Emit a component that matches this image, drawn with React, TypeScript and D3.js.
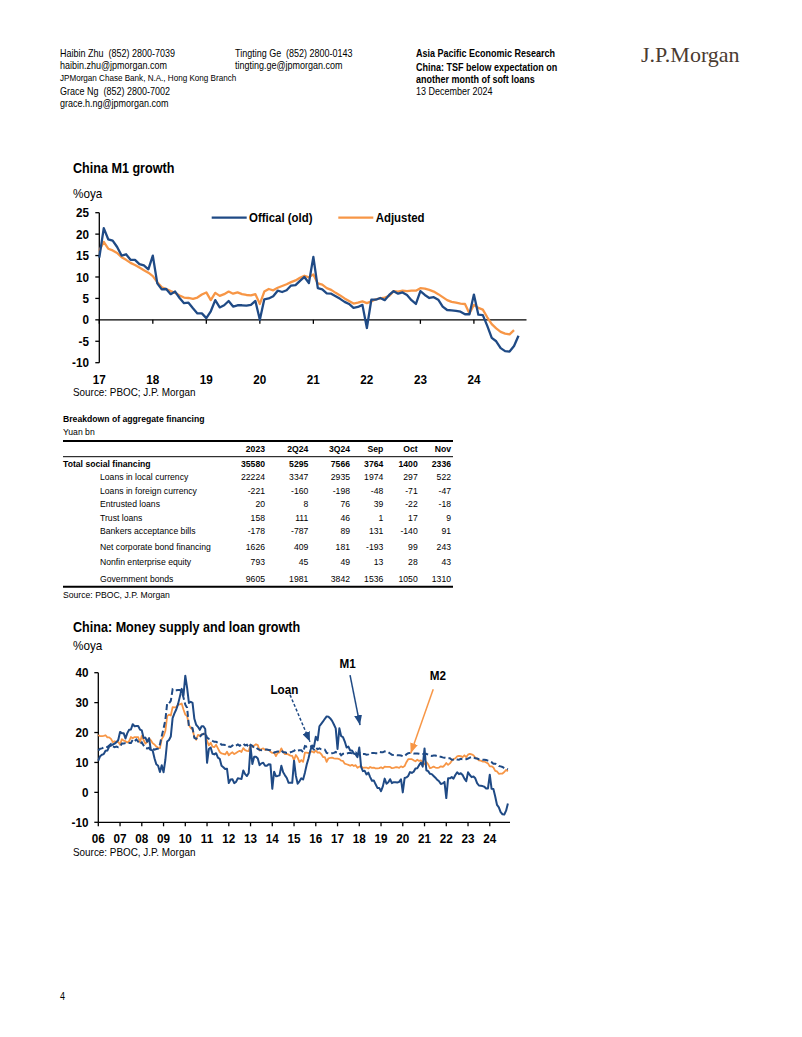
import React from "react";
import * as d3 from "d3";

const NAVY = "#1f4a85";
const ORANGE = "#f79646";
const SANS = "'Liberation Sans', Arial, sans-serif";
const SERIF = "'Liberation Serif', 'DejaVu Serif', serif";
const SX = 0.9; // the page type is set slightly condensed

// ---- chart 1: China M1 growth, monthly Jan-17 .. Nov-24
const m1Years = ["17", "18", "19", "20", "21", "22", "23", "24"];
const m1Official = [
  14.5, 21.4, 18.8, 18.5, 17.0, 15.0, 15.3, 14.0, 14.0, 13.0, 12.7, 11.8,
  15.0, 8.5, 7.1, 7.2, 6.0, 6.6, 5.1, 3.9, 4.0, 2.7, 1.5, 1.5,
  0.4, 2.0, 4.6, 2.9, 3.4, 4.4, 3.1, 3.4, 3.4, 3.3, 3.5, 4.4,
  0.0, 4.8, 5.0, 5.5, 6.8, 6.5, 6.9, 8.0, 8.1, 9.1, 10.0, 8.6,
  14.7, 7.4, 7.1, 6.2, 6.1, 5.5, 4.9, 4.2, 3.7, 2.8, 3.0, 3.5,
  -1.9, 4.7, 4.7, 5.1, 4.6, 5.8, 6.7, 6.1, 6.4, 5.8, 4.6, 3.7,
  6.7, 5.8, 5.1, 5.3, 4.7, 3.1, 2.3, 2.2, 2.1, 1.9, 1.3, 1.3,
  5.9, 1.2, 1.1, -1.4, -4.2, -5.0, -6.6, -7.3, -7.4, -6.1, -3.7,
];
const m1Adjusted = [
  16.1, 18.2, 16.6, 16.2, 15.6, 14.6, 14.0, 13.3, 12.8, 12.2, 11.6, 11.0,
  10.2, 8.8, 7.6, 7.2, 6.7, 6.3, 5.7, 5.2, 5.1, 4.9, 5.2, 5.9,
  6.4, 4.6, 6.3, 5.6, 6.0, 6.6, 6.1, 6.4, 6.0, 5.8, 5.7, 6.0,
  3.7, 6.6, 7.2, 6.9, 7.5, 7.9, 8.3, 8.8, 9.2, 9.8, 10.3, 9.9,
  10.6, 8.5, 8.2, 7.4, 7.0, 6.3, 5.7, 5.0, 4.4, 3.8, 4.0, 4.3,
  3.9, 4.3, 4.8, 5.0, 5.2, 5.6, 6.7, 6.6, 6.8, 6.7, 6.8, 6.8,
  7.4, 7.3, 7.0, 6.6, 6.0, 5.3, 4.6, 4.2, 4.0, 3.8, 3.7, 1.5,
  3.5, 2.8, 2.4, 0.6, -1.0, -2.0, -2.8, -3.2, -3.4, -2.4,
];

// ---- chart 2: money supply and loan growth, monthly Jan-06 .. Nov-24
const moneyYears = ["06", "07", "08", "09", "10", "11", "12", "13", "14", "15", "16", "17", "18", "19", "20", "21", "22", "23", "24"];
const m1Growth = [
  10.6, 12.1, 12.6, 12.8, 13.9, 14.0, 15.3, 15.6, 16.0, 16.3, 16.8, 17.5,
  20.2, 19.8, 19.8, 18.0, 19.8, 20.9, 21.0, 22.8, 22.1, 22.2, 22.2, 21.0,
  20.7, 18.2, 18.3, 16.9, 18.1, 14.2, 14.0, 11.4, 9.4, 8.9, 6.8, 9.1,
  6.7, 10.9, 17.0, 17.5, 18.7, 24.8, 26.4, 27.7, 29.5, 32.0, 34.6, 32.4,
  39.0, 34.9, 29.9, 30.3, 29.9, 24.6, 22.6, 21.9, 20.9, 22.1, 22.1, 21.2,
  9.9, 14.5, 15.0, 12.9, 12.7, 13.1, 11.6, 11.2, 8.9, 8.4, 7.8, 7.9,
  3.1, 4.3, 4.4, 3.1, 3.5, 4.7, 4.6, 4.5, 7.3, 6.1, 5.5, 6.5,
  15.3, 9.5, 11.9, 11.9, 11.3, 9.1, 9.7, 9.9, 8.9, 8.9, 9.4, 9.3,
  1.2, 6.9, 5.4, 5.5, 5.7, 8.9, 6.7, 5.7, 4.8, 3.2, 3.2, 3.2,
  10.6, 5.6, 2.9, 3.7, 4.7, 4.3, 6.6, 9.3, 11.4, 14.0, 15.7, 15.2,
  18.6, 17.4, 22.1, 22.9, 23.7, 24.6, 25.4, 25.3, 24.7, 23.9, 22.7, 21.4,
  14.5, 21.4, 18.8, 18.5, 17.0, 15.0, 15.3, 14.0, 14.0, 13.0, 12.7, 11.8,
  15.0, 8.5, 7.1, 7.2, 6.0, 6.6, 5.1, 3.9, 4.0, 2.7, 1.5, 1.5,
  0.4, 2.0, 4.6, 2.9, 3.4, 4.4, 3.1, 3.4, 3.4, 3.3, 3.5, 4.4,
  0.0, 4.8, 5.0, 5.5, 6.8, 6.5, 6.9, 8.0, 8.1, 9.1, 10.0, 8.6,
  14.7, 7.4, 7.1, 6.2, 6.1, 5.5, 4.9, 4.2, 3.7, 2.8, 3.0, 3.5,
  -1.9, 4.7, 4.7, 5.1, 4.6, 5.8, 6.7, 6.1, 6.4, 5.8, 4.6, 3.7,
  6.7, 5.8, 5.1, 5.3, 4.7, 3.1, 2.3, 2.2, 2.1, 1.9, 1.3, 1.3,
  5.9, 1.2, 1.1, -1.4, -4.2, -5.0, -6.6, -7.3, -7.4, -6.1, -3.7,
];
const m2Growth = [
  19.2, 18.8, 18.8, 18.9, 19.1, 18.4, 18.4, 17.9, 16.8, 17.1, 16.8, 16.9,
  15.9, 17.8, 17.3, 17.1, 16.7, 17.1, 18.5, 18.1, 18.5, 18.5, 18.5, 16.7,
  18.9, 17.5, 16.3, 16.9, 18.1, 17.4, 16.4, 16.0, 15.3, 15.0, 14.8, 17.8,
  18.8, 20.5, 25.5, 26.0, 25.7, 28.5, 28.4, 28.5, 29.3, 29.4, 29.7, 27.7,
  26.0, 25.5, 22.5, 21.5, 21.0, 18.5, 17.6, 19.2, 19.0, 19.3, 19.5, 19.7,
  17.2, 15.7, 16.6, 15.3, 15.1, 15.9, 14.7, 13.5, 13.0, 12.9, 12.7, 13.6,
  12.4, 13.0, 13.4, 12.8, 13.2, 13.6, 13.9, 13.5, 14.8, 14.1, 13.9, 13.8,
  15.9, 15.2, 15.7, 16.1, 15.8, 14.0, 14.5, 14.7, 14.2, 14.3, 14.2, 13.6,
  13.2, 13.3, 12.1, 13.2, 13.4, 14.7, 13.5, 12.8, 12.9, 12.6, 12.3, 12.2,
  10.8, 12.5, 11.6, 10.1, 10.8, 10.2, 13.3, 13.3, 13.1, 13.5, 13.7, 13.3,
  14.0, 13.3, 13.4, 12.8, 11.8, 11.8, 10.2, 11.4, 11.5, 11.6, 11.4, 11.3,
  11.3, 11.1, 10.6, 10.5, 9.6, 9.4, 9.2, 8.9, 9.2, 8.8, 9.1, 8.2,
  8.6, 8.8, 8.2, 8.3, 8.3, 8.0, 8.5, 8.2, 8.3, 8.0, 8.0, 8.1,
  8.4, 8.0, 8.6, 8.5, 8.5, 8.5, 8.1, 8.2, 8.4, 8.4, 8.2, 8.7,
  8.4, 8.8, 10.1, 11.1, 11.1, 11.1, 10.7, 10.4, 10.9, 10.5, 10.7, 10.1,
  9.4, 10.1, 9.4, 8.1, 8.3, 8.6, 8.3, 8.2, 8.3, 8.7, 8.5, 9.0,
  9.8, 9.2, 9.7, 10.5, 11.1, 11.4, 12.0, 12.2, 12.1, 11.8, 12.4, 11.8,
  12.6, 12.9, 12.7, 12.4, 11.6, 11.3, 10.7, 10.6, 10.3, 10.3, 10.0, 9.7,
  8.7, 8.7, 8.3, 7.2, 7.0, 6.2, 6.3, 6.3, 6.8, 7.5, 7.1,
];
const loanGrowth = [
  14.0, 14.6, 14.7, 15.0, 15.2, 15.2, 15.7, 16.2, 15.4, 15.1, 15.3, 15.1,
  15.2, 16.3, 16.3, 16.5, 16.4, 16.5, 16.5, 17.6, 17.1, 17.7, 17.0, 16.1,
  16.7, 15.7, 14.8, 14.7, 14.9, 14.1, 14.6, 14.3, 14.5, 14.6, 16.0, 18.8,
  21.3, 24.2, 29.8, 29.7, 30.6, 34.4, 34.0, 34.1, 34.2, 34.2, 33.8, 31.7,
  29.3, 28.3, 22.0, 21.8, 21.5, 18.2, 17.9, 18.4, 18.5, 19.3, 19.5, 19.9,
  18.3, 17.9, 17.6, 17.2, 16.9, 16.9, 16.6, 16.6, 15.9, 15.9, 15.8, 15.8,
  15.3, 15.2, 15.7, 15.3, 15.6, 16.0, 15.6, 16.0, 16.3, 15.7, 15.9, 15.0,
  15.9, 15.6, 14.9, 15.0, 14.5, 14.2, 14.1, 14.2, 14.3, 14.3, 14.2, 14.1,
  13.8, 13.3, 13.5, 13.7, 13.7, 14.0, 13.4, 13.4, 13.2, 13.2, 13.4, 13.6,
  13.9, 14.3, 14.0, 14.1, 14.1, 13.4, 15.5, 15.3, 15.4, 15.4, 14.9, 14.3,
  15.1, 14.4, 14.7, 14.4, 14.4, 14.3, 13.2, 13.0, 13.0, 13.1, 13.2, 13.5,
  13.2, 13.2, 12.4, 12.9, 12.9, 12.9, 13.2, 13.2, 13.1, 13.0, 13.3, 12.7,
  13.2, 12.8, 12.8, 12.8, 12.6, 12.7, 13.2, 13.2, 13.2, 13.1, 13.1, 13.5,
  13.4, 13.4, 13.7, 13.5, 13.4, 13.0, 12.6, 12.5, 12.5, 12.4, 12.4, 12.3,
  12.1, 12.1, 12.7, 13.1, 13.2, 13.2, 13.0, 13.0, 13.0, 12.9, 12.8, 12.8,
  12.7, 12.9, 12.6, 12.3, 12.2, 12.3, 12.3, 12.1, 11.9, 11.9, 11.7, 11.6,
  11.5, 11.4, 11.4, 10.9, 11.0, 11.2, 11.0, 10.9, 11.2, 11.1, 11.0, 11.1,
  11.3, 11.6, 11.8, 11.8, 11.4, 11.3, 11.1, 11.1, 10.9, 10.9, 10.8, 10.6,
  10.4, 10.1, 9.6, 9.6, 9.3, 8.8, 8.7, 8.5, 8.1, 8.0, 7.7,
];

// ---- table: breakdown of aggregate financing (Yuan bn)
const tableColumns = ["2023", "2Q24", "3Q24", "Sep", "Oct", "Nov"];
const rowLabels = [
  "Total social financing",
  "Loans in local currency",
  "Loans in foreign currency",
  "Entrusted loans",
  "Trust loans",
  "Bankers acceptance bills",
  "Net corporate bond financing",
  "Nonfin enterprise equity",
  "Government bonds",
];
const tsfTotal = [35580, 5295, 7566, 3764, 1400, 2336];
const loansLocal = [22224, 3347, 2935, 1974, 297, 522];
const loansForeign = [-221, -160, -198, -48, -71, -47];
const entrustedLoans = [20, 8, 76, 39, -22, -18];
const trustLoans = [158, 111, 46, 1, 17, 9];
const bankersBills = [-178, -787, 89, 131, -140, 91];
const corpBonds = [1626, 409, 181, -193, 99, 243];
const nonfinEquity = [793, 45, 49, 13, 28, 43];
const govBonds = [9605, 1981, 3842, 1536, 1050, 1310];

// annotation anchors in (month index, % value) for chart 2
const loanNote = { text: [102.7, 34.4], from: [105.8, 32.6], to: [116.8, 16.9] };
const m1Note = { text: [137.5, 43.0], from: [138.9, 39.2], to: [144.4, 22.5] };
const m2Note = { text: [187.4, 39.2], from: [184.8, 34.5], to: [172.4, 13.1] };

type TProps = {
  x: number; y: number; size: number; bold?: boolean; anchor?: string;
  fill?: string; family?: string; sx?: number; children: React.ReactNode;
};
const T = ({ x, y, size, bold, anchor = "start", fill = "#000", family = SANS, sx = SX, children }: TProps) => (
  <g transform={`translate(${x},${y}) scale(${sx},1)`}>
    <text fontSize={size} fontWeight={bold ? "bold" : "normal"} textAnchor={anchor as any} fill={fill}
      fontFamily={family} style={{ whiteSpace: "pre" }}>
      {children}
    </text>
  </g>
);

const Header = () => (
  <g>
    <T x={60} y={57} size={10}>Haibin Zhu  (852) 2800-7039</T>
    <T x={60} y={69} size={10}>haibin.zhu@jpmorgan.com</T>
    <T x={60} y={80.5} size={9}>JPMorgan Chase Bank, N.A., Hong Kong Branch</T>
    <T x={60} y={95} size={10}>Grace Ng  (852) 2800-7002</T>
    <T x={60} y={106.5} size={10}>grace.h.ng@jpmorgan.com</T>
    <T x={235} y={57} size={10}>Tingting Ge  (852) 2800-0143</T>
    <T x={235} y={69} size={10}>tingting.ge@jpmorgan.com</T>
    <T x={416} y={57} size={10} bold>Asia Pacific Economic Research</T>
    <T x={416} y={71} size={10} bold>China: TSF below expectation on</T>
    <T x={416} y={83} size={10} bold>another month of soft loans</T>
    <T x={416} y={95} size={10}>13 December 2024</T>
    <T x={641} y={62} size={22} family={SERIF} fill="#4a3b31" sx={1}>J.P.Morgan</T>
  </g>
);

const M1Chart = () => {
  const x = d3.scaleLinear().domain([0, m1Official.length - 1]).range([99.3, 518.5]);
  const y = d3.scaleLinear().domain([-10, 25]).range([362.7, 212.7]);
  const line = d3.line<number>().x((_, i) => x(i)).y((d) => y(d));
  const yTicks = y.ticks(7);
  return (
    <g>
      <T x={73} y={173.3} size={14} bold>China M1 growth</T>
      <T x={73} y={197.8} size={13}>%oya</T>
      {/* y axis */}
      <line x1={x(0)} x2={x(0)} y1={y(25)} y2={y(-10)} stroke="#000" strokeWidth={1.3} />
      {yTicks.map((t) => (
        <g key={t}>
          <line x1={x(0) - 4} x2={x(0)} y1={y(t)} y2={y(t)} stroke="#000" strokeWidth={1.3} />
          <T x={89} y={y(t) + 4.6} size={13} bold anchor="end">{t}</T>
        </g>
      ))}
      {/* zero line with year ticks */}
      <line x1={x(0)} x2={526.5} y1={y(0)} y2={y(0)} stroke="#000" strokeWidth={1.3} />
      {m1Years.map((lab, i) => (
        <g key={lab}>
          <line x1={x(i * 12)} x2={x(i * 12)} y1={y(0)} y2={y(0) + 4} stroke="#000" strokeWidth={1.3} />
          <T x={x(i * 12)} y={384} size={13} bold anchor="middle">{lab}</T>
        </g>
      ))}
      <path d={line(m1Adjusted) ?? ""} fill="none" stroke={ORANGE} strokeWidth={2.3} strokeLinejoin="round" />
      <path d={line(m1Official) ?? ""} fill="none" stroke={NAVY} strokeWidth={2.3} strokeLinejoin="round" />
      {/* legend */}
      <line x1={211.7} x2={246.7} y1={217.7} y2={217.7} stroke={NAVY} strokeWidth={2.3} />
      <T x={249} y={222.3} size={12.7} bold>Offical (old)</T>
      <line x1={338.3} x2={373.3} y1={217.7} y2={217.7} stroke={ORANGE} strokeWidth={2.3} />
      <T x={375.7} y={222.3} size={12.7} bold>Adjusted</T>
      <T x={73} y={396} size={11}>Source: PBOC; J.P. Morgan</T>
    </g>
  );
};

const FinancingTable = () => {
  const rows = [tsfTotal, loansLocal, loansForeign, entrustedLoans, trustLoans, bankersBills, corpBonds, nonfinEquity, govBonds];
  const colRight = [265, 308.3, 350, 383.3, 417.7, 451];
  const rowBaselines = [467.4, 480.4, 493.7, 507.4, 520.7, 534.4, 549.7, 565.4, 581.7];
  return (
    <g>
      <T x={63} y={422.4} size={9.6} bold>Breakdown of aggregate financing</T>
      <T x={63} y={435} size={9.6}>Yuan bn</T>
      <line x1={63} x2={453} y1={441} y2={441} stroke="#000" strokeWidth={2} />
      {tableColumns.map((c, j) => (
        <T key={c} x={colRight[j]} y={451.7} size={9.6} bold anchor="end">{c}</T>
      ))}
      <line x1={63} x2={453} y1={456.7} y2={456.7} stroke="#000" strokeWidth={1} />
      {rows.map((vals, i) => (
        <g key={rowLabels[i]}>
          <T x={i === 0 ? 63 : 100} y={rowBaselines[i]} size={9.6} bold={i === 0}>{rowLabels[i]}</T>
          {vals.map((v, j) => (
            <T key={j} x={colRight[j]} y={rowBaselines[i]} size={9.6} bold={i === 0} anchor="end">{v}</T>
          ))}
        </g>
      ))}
      <line x1={63} x2={453} y1={586.7} y2={586.7} stroke="#000" strokeWidth={2} />
      <T x={63} y={598.2} size={9.6}>Source: PBOC, J.P. Morgan</T>
    </g>
  );
};

const MoneyChart = () => {
  const x = d3.scaleLinear().domain([0, m1Growth.length - 1]).range([98.3, 507.9]);
  const y = d3.scaleLinear().domain([-10, 40]).range([822.3, 672.7]);
  const line = d3.line<number>().x((_, i) => x(i)).y((d) => y(d));
  const yTicks = y.ticks(5);
  const pt = (p: number[]) => [x(p[0]), y(p[1])];
  const arrow = (n: { from: number[]; to: number[] }, color: string, marker: string, dash?: string) => {
    const [x1, y1] = pt(n.from);
    const [x2, y2] = pt(n.to);
    return (
      <line x1={x1} y1={y1} x2={x2} y2={y2} stroke={color} strokeWidth={1.5}
        strokeDasharray={dash} markerEnd={`url(#${marker})`} />
    );
  };
  return (
    <g>
      <defs>
        {[["head-navy", NAVY], ["head-orange", ORANGE]].map(([id, c]) => (
          <marker key={id} id={id} viewBox="0 0 10 8" refX={10} refY={4} markerWidth={10} markerHeight={8}
            markerUnits="userSpaceOnUse" orient="auto">
            <path d="M0,0 L10,4 L0,8 Z" fill={c} />
          </marker>
        ))}
      </defs>
      <T x={73} y={632.3} size={14} bold>China: Money supply and loan growth</T>
      <T x={73} y={650.4} size={13}>%oya</T>
      <line x1={x(0)} x2={x(0)} y1={y(40)} y2={y(-10)} stroke="#000" strokeWidth={1.3} />
      {yTicks.map((t) => (
        <g key={t}>
          <line x1={x(0) - 4} x2={x(0)} y1={y(t)} y2={y(t)} stroke="#000" strokeWidth={1.3} />
          <T x={88.5} y={y(t) + 4.6} size={13} bold anchor="end">{t}</T>
        </g>
      ))}
      <line x1={x(0)} x2={510} y1={y(-10)} y2={y(-10)} stroke="#000" strokeWidth={1.3} />
      {moneyYears.map((lab, i) => (
        <g key={lab}>
          <line x1={x(i * 12)} x2={x(i * 12)} y1={y(-10)} y2={y(-10) + 4} stroke="#000" strokeWidth={1.3} />
          <T x={x(i * 12)} y={843} size={13} bold anchor="middle">{lab}</T>
        </g>
      ))}
      <path d={line(m2Growth) ?? ""} fill="none" stroke={ORANGE} strokeWidth={1.8} strokeLinejoin="round" />
      <path d={line(loanGrowth) ?? ""} fill="none" stroke={NAVY} strokeWidth={2} strokeDasharray="6,3" />
      <path d={line(m1Growth) ?? ""} fill="none" stroke={NAVY} strokeWidth={2} strokeLinejoin="round" />
      {arrow(loanNote, NAVY, "head-navy", "3,2")}
      {arrow(m1Note, NAVY, "head-navy")}
      {arrow(m2Note, ORANGE, "head-orange")}
      <T x={pt(loanNote.text)[0]} y={pt(loanNote.text)[1] + 4.7} size={13} bold anchor="middle">Loan</T>
      <T x={pt(m1Note.text)[0]} y={pt(m1Note.text)[1] + 4.7} size={13} bold anchor="middle">M1</T>
      <T x={pt(m2Note.text)[0]} y={pt(m2Note.text)[1] + 4.7} size={13} bold anchor="middle">M2</T>
      <T x={73} y={855.7} size={11}>Source: PBOC, J.P. Morgan</T>
    </g>
  );
};

export default function App() {
  return (
    <div style={{ position: "absolute", left: 0, top: 0, width: 802, height: 1037, background: "#fff" }}>
      <svg width={802} height={1037} style={{ display: "block" }}>
        <rect width={802} height={1037} fill="#fff" />
        <Header />
        <M1Chart />
        <FinancingTable />
        <MoneyChart />
        <T x={60} y={1000} size={10}>4</T>
      </svg>
    </div>
  );
}
